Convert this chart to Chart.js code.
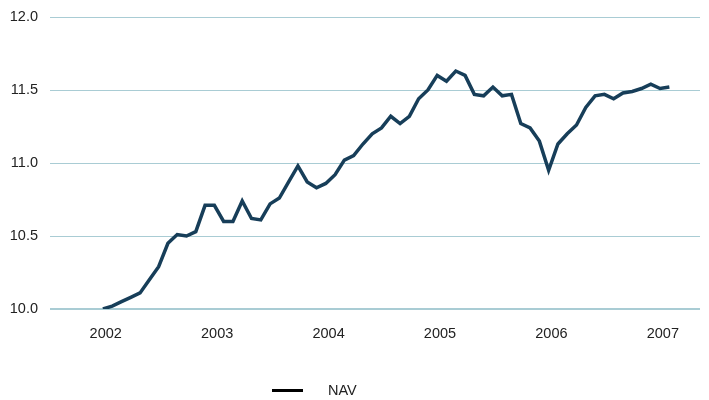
<!DOCTYPE html>
<html>
<head>
<meta charset="utf-8">
<script src="https://cdn.jsdelivr.net/npm/chart.js@4/dist/chart.umd.min.js"></script>
<style>
  html, body { margin: 0; padding: 0; background: #fff; }
  #wrap { position: relative; width: 709px; height: 400px; }
  #legend {
    position: absolute; left: 272px; top: 381px; height: 18px;
    font: 14.5px "Liberation Sans", Arial, sans-serif; color: #222;
    display: flex; align-items: center;
  }
  #legend .swatch { width: 31px; height: 3px; background: #000; margin-right: 25px; }
</style>
</head>
<body>
<div id="wrap">
  <canvas id="chart" width="709" height="400"></canvas>
  <div id="legend"><span class="swatch"></span><span>NAV</span></div>
</div>
<script>
// 月度净值 (2002年1月 - 2007年2月)
const nav = [
  10.00, 10.02, 10.05, 10.08, 10.11, 10.20, 10.29, 10.45, 10.51, 10.50, 10.53, 10.71,
  10.71, 10.60, 10.60, 10.74, 10.62, 10.61, 10.72, 10.76, 10.87, 10.98, 10.87, 10.83,
  10.86, 10.92, 11.02, 11.05, 11.13, 11.20, 11.24, 11.32, 11.27, 11.32, 11.44, 11.50,
  11.60, 11.56, 11.63, 11.60, 11.47, 11.46, 11.52, 11.46, 11.47, 11.27, 11.24, 11.15,
  10.95, 11.13, 11.20, 11.26, 11.38, 11.46, 11.47, 11.44, 11.48, 11.49, 11.51, 11.54,
  11.51, 11.52
];
const years = ['2002', '2003', '2004', '2005', '2006', '2007'];
const yTicks = [10.0, 10.5, 11.0, 11.5, 12.0];

const font = { family: '"Liberation Sans", Arial, sans-serif', size: 14.5 };

const ctx = document.getElementById('chart').getContext('2d');
new Chart(ctx, {
  type: 'line',
  data: {
    datasets: [{
      label: 'NAV',
      data: nav.map((v, i) => ({ x: i, y: v })),
      borderColor: '#173e59',
      borderWidth: 3.5,
      pointRadius: 0,
      tension: 0,
      fill: false
    }]
  },
  options: {
    responsive: false,
    animation: false,
    layout: { padding: { top: 17, right: 9, bottom: 0, left: 0 } },
    scales: {
      x: {
        type: 'linear',
        min: -5.7,
        max: 64.3,
        grid: { display: false },
        border: { display: false },
        afterBuildTicks: scale => {
          scale.ticks = years.map((y, k) => ({ value: k * 12 + 0.3 }));
        },
        afterFit: scale => {
          scale.height = 91;
          scale.paddingLeft = 0;
          scale.paddingRight = 0;
        },
        ticks: {
          autoSkip: false,
          maxRotation: 0,
          padding: 8,
          color: '#222',
          font: font,
          callback: (val, idx) => years[idx]
        }
      },
      y: {
        min: 10,
        max: 12,
        afterBuildTicks: scale => {
          scale.ticks = yTicks.map(v => ({ value: v }));
        },
        afterFit: scale => {
          scale.width = 50;
          scale.paddingTop = 0;
          scale.paddingBottom = 0;
        },
        grid: {
          color: '#a9ccd4',
          lineWidth: c => (c.tick && c.tick.value === 10 ? 2 : 1),
          drawTicks: false
        },
        border: { display: false },
        ticks: {
          padding: 12,
          color: '#222',
          font: font,
          callback: v => Number(v).toFixed(1)
        }
      }
    },
    plugins: {
      legend: { display: false },
      tooltip: { enabled: false }
    }
  }
});
</script>
</body>
</html>
